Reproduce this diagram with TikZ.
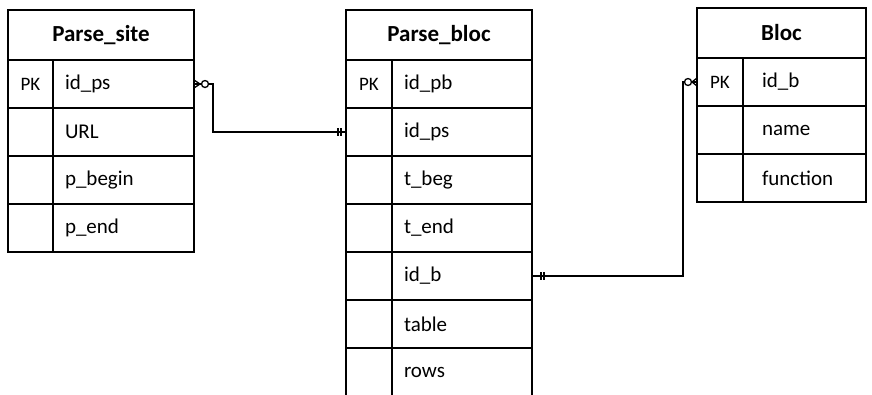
\documentclass[tikz,border=0pt]{standalone}
\usepackage{fontspec}
\setmainfont{Carlito}
\usetikzlibrary{calc}
\begin{document}
\begin{tikzpicture}[x=1bp,y=-1bp,
  cell/.style={draw, line width=1.3bp, rectangle, inner sep=0pt, outer sep=0pt, anchor=north west},
  hdr/.style={cell, minimum height=50bp, font=\fontsize{23bp}{26bp}\selectfont\bfseries},
  keycell/.style={cell, minimum height=48bp, font=\fontsize{19bp}{22bp}\selectfont},
  fieldcell/.style={cell, minimum height=48bp, align=left, font=\fontsize{21bp}{24bp}\selectfont},
  conn/.style={line width=1.3bp},
]
\clip (0,0) rectangle (872,394);
\fill[white] (0,0) rectangle (872,394);

% Parse_site
\node[hdr, minimum width=186bp] (ps) at (8,10) {Parse\_site};
\foreach \i/\k/\f in {0/PK/id\_ps, 1//URL, 2//p\_begin, 3//p\_end}{
  \node[keycell, minimum width=45bp] (psk\i) at (8,60+48*\i) {\k};
  \node[fieldcell, text width=117bp, inner xsep=12bp] (psf\i) at (53,60+48*\i) {\f};
}

% Parse_bloc
\node[hdr, minimum width=186bp] (pb) at (346,10) {Parse\_bloc};
\foreach \i/\k/\f in {0/PK/id\_pb, 1//id\_ps, 2//t\_beg, 3//t\_end, 4//id\_b, 5//table, 6//rows}{
  \node[keycell, minimum width=46bp] (pbk\i) at (346,60+48*\i) {\k};
  \node[fieldcell, text width=116bp, inner xsep=12bp] (pbf\i) at (392,60+48*\i) {\f};
}

% Bloc
\node[hdr, minimum width=169bp] (bl) at (697,8) {Bloc};
\foreach \i/\k/\f in {0/PK/id\_b, 1//name, 2//function}{
  \node[keycell, minimum width=46bp] (blk\i) at (697,58+48*\i) {\k};
  \node[fieldcell, text width=85bp, inner xsep=19bp] (blf\i) at (743,58+48*\i) {\f};
}

% Connector Parse_site -> Parse_bloc
\draw[conn] (psf0.east) -- ++(19,0) |- (pbk1.west);
\draw[conn] ($(psf0.east)+(6,0)$) -- ($(psf0.east)+(0,-4)$);
\draw[conn] ($(psf0.east)+(6,0)$) -- ($(psf0.east)+(0,4)$);
\draw[conn, fill=white] ($(psf0.east)+(11,0)$) circle (3.5bp);
\draw[conn] ($(pbk1.west)+(-8,-4)$) -- ($(pbk1.west)+(-8,4)$);
\draw[conn] ($(pbk1.west)+(-5,-4)$) -- ($(pbk1.west)+(-5,4)$);

% Connector Parse_bloc -> Bloc
\draw[conn] (pbf4.east) -| ($(blk0.west)+(-14,0)$) -- (blk0.west);
\draw[conn] ($(blk0.west)+(-5,0)$) -- ($(blk0.west)+(0,-4)$);
\draw[conn] ($(blk0.west)+(-5,0)$) -- ($(blk0.west)+(0,4)$);
\draw[conn, fill=white] ($(blk0.west)+(-9,0)$) circle (3.5bp);
\draw[conn] ($(pbf4.east)+(9,-4)$) -- ($(pbf4.east)+(9,4)$);
\draw[conn] ($(pbf4.east)+(12,-4)$) -- ($(pbf4.east)+(12,4)$);
\end{tikzpicture}
\end{document}
